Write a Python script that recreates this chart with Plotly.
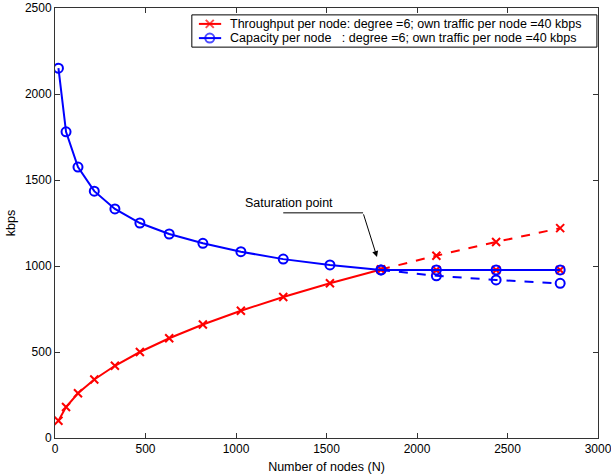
import plotly.graph_objects as go

# Network sizes (hexagonal layouts) and per-node rates in kbps
nodes = [19, 61, 127, 217, 331, 469, 631, 817, 1027, 1261, 1519, 1801, 2107, 2437, 2791]
throughput = [100, 180, 260, 340, 420, 500, 580, 660, 740, 820, 900, 980, 1060, 1140, 1220]
capacity = [2150, 1780, 1575, 1435, 1332, 1250, 1186, 1132, 1083, 1040, 1006, 977, 943, 919, 899]
sat_index = 11  # network size where demand meets capacity

legend_labels = [
    "Throughput per node: degree =6; own traffic per node =40 kbps",
    "Capacity per node\u00a0\u00a0\u00a0: degree =6; own traffic per node =40 kbps",
]

RED = "#ff0000"
BLUE = "#0000ff"
FONT = "Liberation Sans, Arial, sans-serif"
TICK_SIZE = 12
TEXT_SIZE = 12.5

sat_value = capacity[sat_index]
n_after = len(nodes) - sat_index - 1
# Achieved rates: beyond saturation both curves are held at the saturation capacity
cap_actual = capacity[:sat_index + 1] + [sat_value] * n_after

red_marker = dict(symbol="x-thin", size=8, color=RED, line=dict(color=RED, width=2))
blue_marker = dict(symbol="circle-open", size=9, color=BLUE, line=dict(color=BLUE, width=2))

fig = go.Figure()

# Unsaturated continuations (dashed)
fig.add_trace(go.Scatter(
    x=nodes[sat_index:], y=throughput[sat_index:], mode="lines+markers",
    line=dict(color=RED, width=2, dash="dash"), marker=red_marker,
    showlegend=False, hoverinfo="skip"))
fig.add_trace(go.Scatter(
    x=nodes[sat_index:], y=capacity[sat_index:], mode="lines+markers",
    line=dict(color=BLUE, width=2, dash="dash"), marker=blue_marker,
    showlegend=False, hoverinfo="skip"))

# Achieved throughput: rising part, then held at saturation (markers under the capacity line)
fig.add_trace(go.Scatter(
    x=nodes[:sat_index + 1], y=throughput[:sat_index + 1], mode="lines+markers",
    name=legend_labels[0], line=dict(color=RED, width=2), marker=red_marker,
    showlegend=False))
fig.add_trace(go.Scatter(
    x=nodes[sat_index + 1:], y=[sat_value] * n_after, mode="markers",
    marker=red_marker, showlegend=False, hoverinfo="skip"))
# Achieved capacity
fig.add_trace(go.Scatter(
    x=nodes, y=cap_actual, mode="lines+markers", name=legend_labels[1],
    line=dict(color=BLUE, width=2), marker=blue_marker, showlegend=False))

# "Saturation point" callout: label, leader line and arrow
fig.add_annotation(x=1295, y=1366, text="Saturation point", showarrow=False,
                   font=dict(family=FONT, size=TEXT_SIZE, color="black"))
fig.add_shape(type="line", x0=1261, y0=1309, x1=1702, y1=1309,
              line=dict(color="black", width=1))
fig.add_annotation(x=1779, y=1052, ax=1702, ay=1309, axref="x", ayref="y",
                   text="", showarrow=True, arrowhead=2, arrowsize=1.2,
                   arrowwidth=1, arrowcolor="black")

# Compact boxed legend in the upper right (paper-fraction layout)
box_x0, box_x1, box_y0, box_y1 = 0.252, 0.998, 0.909, 0.984
row_y = [0.963, 0.930]
key_x = [0.265, 0.285, 0.306]
text_x = 0.318
fig.add_shape(type="rect", xref="paper", yref="paper",
              x0=box_x0, x1=box_x1, y0=box_y0, y1=box_y1,
              line=dict(color="black", width=1), fillcolor="white", layer="below")
for label, ry, color, mk in zip(legend_labels, row_y, [RED, BLUE], [red_marker, blue_marker]):
    fig.add_trace(go.Scatter(
        x=key_x, y=[ry] * 3, xaxis="x2", yaxis="y2", mode="lines+markers",
        line=dict(color=color, width=2),
        marker=dict(mk, size=[0, mk["size"], 0]),
        showlegend=False, hoverinfo="skip", cliponaxis=False))
    fig.add_annotation(xref="paper", yref="paper", x=text_x, y=ry, text=label,
                       xanchor="left", yanchor="middle", showarrow=False,
                       font=dict(family=FONT, size=TEXT_SIZE, color="black"))

axis_common = dict(
    showline=True, linecolor="#333333", linewidth=1, mirror="ticks",
    ticks="inside", ticklen=5, tickcolor="#333333", showgrid=False, zeroline=False,
    tickfont=dict(family=FONT, size=TICK_SIZE, color="black"),
    automargin=False, ticklabeloverflow="allow",
)

fig.update_layout(
    xaxis=dict(range=[0, 3000], tickvals=[0, 500, 1000, 1500, 2000, 2500, 3000],
               title=dict(text="Number of nodes (N)",
                          font=dict(family=FONT, size=TEXT_SIZE, color="black"), standoff=6),
               **axis_common),
    yaxis=dict(range=[0, 2500], tickvals=[0, 500, 1000, 1500, 2000, 2500],
               title=dict(text="kbps", font=dict(family=FONT, size=TEXT_SIZE, color="black"),
                          standoff=6),
               **axis_common),
    xaxis2=dict(overlaying="x", range=[0, 1], visible=False),
    yaxis2=dict(overlaying="y", range=[0, 1], visible=False),
    width=611, height=476,
    margin=dict(l=55, r=13, t=8, b=38),
    paper_bgcolor="white", plot_bgcolor="white",
    font=dict(family=FONT, size=TEXT_SIZE, color="black"),
    showlegend=False,
)

fig.write_html("out.html")
